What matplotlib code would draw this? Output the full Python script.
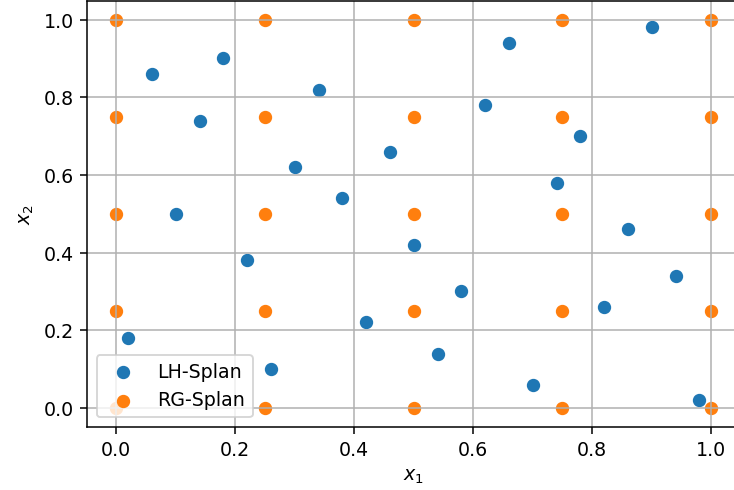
import matplotlib
matplotlib.use("Agg")
import matplotlib.pyplot as plt
import numpy as np

# LH-Splan points (latin hypercube)
lh_x = [0.02, 0.06, 0.10, 0.14, 0.18, 0.22, 0.26, 0.30, 0.34, 0.38, 0.42, 0.46, 0.50,
        0.54, 0.58, 0.62, 0.66, 0.70, 0.74, 0.78, 0.82, 0.86, 0.90, 0.94, 0.98]
lh_y = [0.18, 0.86, 0.50, 0.74, 0.90, 0.38, 0.10, 0.62, 0.82, 0.54, 0.22, 0.66, 0.42,
        0.14, 0.30, 0.78, 0.94, 0.06, 0.58, 0.70, 0.26, 0.46, 0.98, 0.34, 0.02]

# RG-Splan points (regular grid)
rg_levels = [0.0, 0.25, 0.5, 0.75, 1.0]
rg_x = [a for a in rg_levels for b in rg_levels]
rg_y = [b for a in rg_levels for b in rg_levels]

dpi = 137
fig = plt.figure(figsize=(734.4 / dpi, 490.4 / dpi), dpi=dpi)
# axes runs slightly past the right edge of the picture (reference is cropped there)
ax = fig.add_axes([87 / 734, 1 - 427 / 490, 653 / 734, 426 / 490])

ax.scatter(lh_x, lh_y, label="LH-Splan")
ax.scatter(rg_x, rg_y, label="RG-Splan")
ax.set_xlim(-0.049, 1.049)
ax.set_ylim(-0.049, 1.049)
ax.spines["right"].set_visible(False)
ax.grid(True)
ax.set_xlabel("$x_1$")
ax.set_ylabel("$x_2$")
ax.legend(loc="lower left")

fig.savefig("out.png", dpi=dpi)
